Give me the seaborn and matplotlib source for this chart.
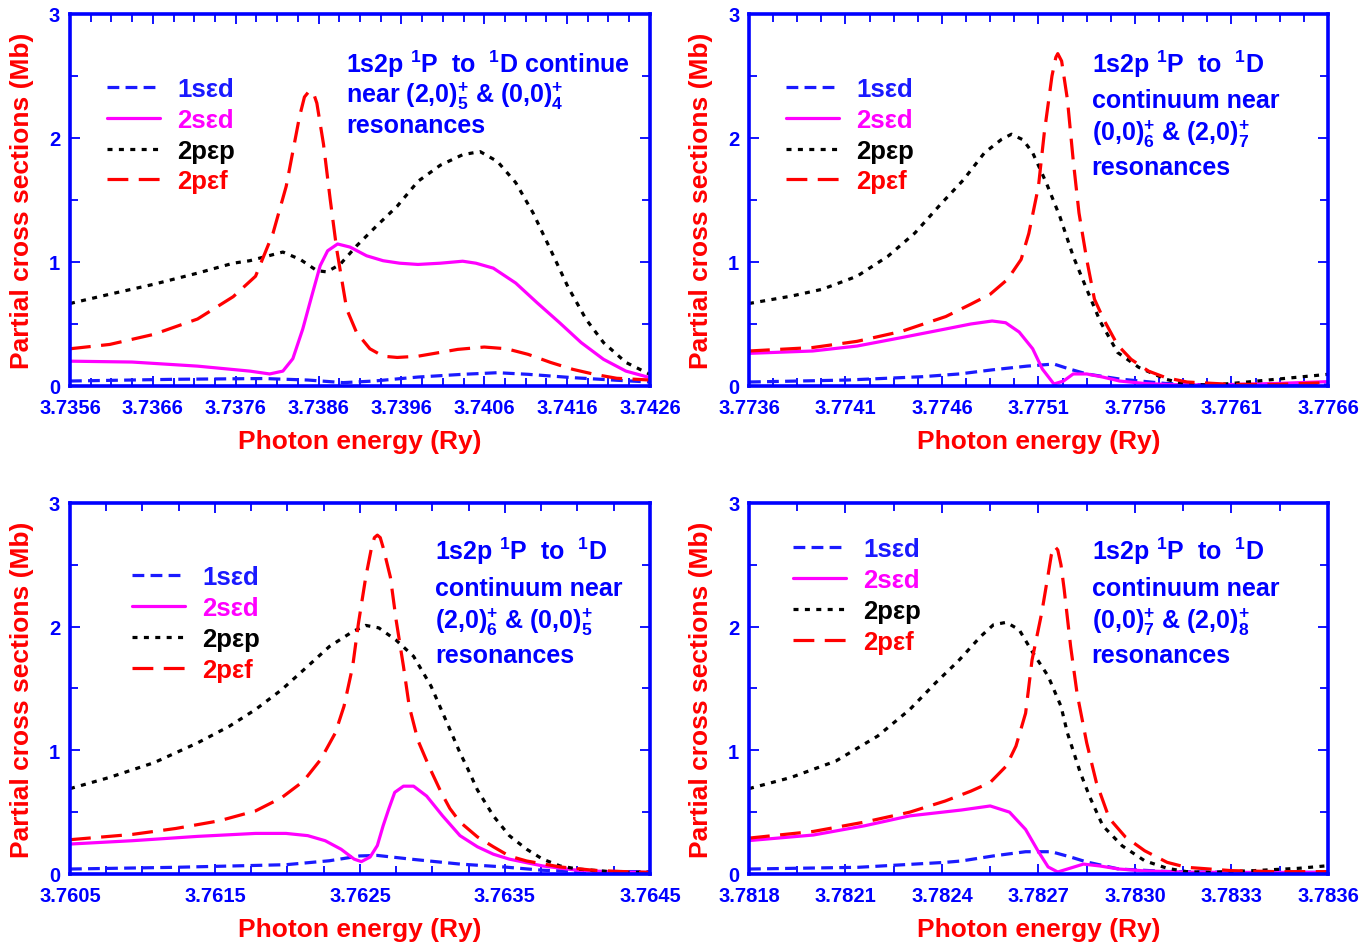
import numpy as np
import matplotlib
matplotlib.use("Agg")
import matplotlib.pyplot as plt
import seaborn as sns
from matplotlib.ticker import AutoMinorLocator, FixedLocator

sns.set_style("ticks")
plt.rcParams["font.family"] = ["Liberation Sans", "DejaVu Sans"]
plt.rcParams["font.weight"] = "bold"
plt.rcParams["mathtext.fontset"] = "custom"
plt.rcParams["mathtext.rm"] = "Liberation Sans:bold"
plt.rcParams["mathtext.bf"] = "Liberation Sans:bold"
plt.rcParams["mathtext.it"] = "Liberation Sans:bold"
plt.rcParams["mathtext.default"] = "bf"
plt.rcParams["lines.scale_dashes"] = False

# ---------------- Data ----------------
series_labels = ["1s\u03b5d", "2s\u03b5d", "2p\u03b5p", "2p\u03b5f"]

# Panel 1 : 3.7356 - 3.7426
p1_xticks = [3.7356, 3.7366, 3.7376, 3.7386, 3.7396, 3.7406, 3.7416, 3.7426]
p1_sed1_x = [3.73560, 3.73688, 3.73794, 3.73847, 3.73890, 3.73927, 3.73980, 3.74034, 3.74076, 3.74113, 3.74167, 3.74220, 3.74260]
p1_sed1_y = [0.040, 0.054, 0.060, 0.048, 0.027, 0.040, 0.072, 0.094, 0.107, 0.094, 0.067, 0.046, 0.032]
p1_sed2_x = [3.73560, 3.73635, 3.73714, 3.73777, 3.73801, 3.73817, 3.73829, 3.73841, 3.73852, 3.73862, 3.73871, 3.73883, 3.73898, 3.73918, 3.73938, 3.73958, 3.73980, 3.74007, 3.74034, 3.74050, 3.74071, 3.74098, 3.74124, 3.74151, 3.74177, 3.74204, 3.74231, 3.74260]
p1_sed2_y = [0.200, 0.193, 0.160, 0.120, 0.097, 0.120, 0.220, 0.460, 0.730, 0.970, 1.090, 1.145, 1.120, 1.050, 1.010, 0.990, 0.980, 0.990, 1.006, 0.990, 0.950, 0.830, 0.670, 0.510, 0.350, 0.215, 0.120, 0.067]
p1_pep_x = [3.73560, 3.73608, 3.73661, 3.73714, 3.73757, 3.73777, 3.73817, 3.73838, 3.73858, 3.73870, 3.73886, 3.73906, 3.73930, 3.73955, 3.73980, 3.74007, 3.74034, 3.74055, 3.74076, 3.74098, 3.74119, 3.74140, 3.74161, 3.74183, 3.74204, 3.74231, 3.74260]
p1_pep_y = [0.665, 0.740, 0.820, 0.910, 0.990, 1.010, 1.080, 1.020, 0.930, 0.920, 0.980, 1.130, 1.290, 1.450, 1.650, 1.780, 1.865, 1.890, 1.810, 1.640, 1.395, 1.100, 0.800, 0.537, 0.350, 0.190, 0.094]
p1_pef_x = [3.73560, 3.73608, 3.73661, 3.73714, 3.73757, 3.73784, 3.73805, 3.73821, 3.73837, 3.73843, 3.73849, 3.73854, 3.73858, 3.73866, 3.73874, 3.73882, 3.73894, 3.73906, 3.73922, 3.73938, 3.73955, 3.73980, 3.74028, 3.74060, 3.74087, 3.74113, 3.74140, 3.74167, 3.74193, 3.74220, 3.74260]
p1_pef_y = [0.300, 0.335, 0.416, 0.540, 0.720, 0.885, 1.230, 1.610, 2.170, 2.330, 2.380, 2.360, 2.280, 1.950, 1.510, 1.100, 0.620, 0.430, 0.300, 0.240, 0.230, 0.240, 0.295, 0.314, 0.300, 0.255, 0.190, 0.134, 0.094, 0.062, 0.048]

# Panel 2 : 3.7736 - 3.7766
p2_xticks = [3.7736, 3.7741, 3.7746, 3.7751, 3.7756, 3.7761, 3.7766]
p2_sed1_x = [3.77360, 3.77411, 3.77450, 3.77469, 3.77486, 3.77504, 3.77518, 3.77526, 3.77535, 3.77552, 3.77576, 3.77599, 3.77660]
p2_sed1_y = [0.032, 0.048, 0.075, 0.097, 0.130, 0.160, 0.177, 0.137, 0.097, 0.056, 0.020, 0.008, 0.008]
p2_sed2_x = [3.77360, 3.77393, 3.77416, 3.77439, 3.77462, 3.77475, 3.77486, 3.77493, 3.77500, 3.77507, 3.77512, 3.77518, 3.77523, 3.77528, 3.77535, 3.77543, 3.77552, 3.77565, 3.77580, 3.77599, 3.77633, 3.77660]
p2_sed2_y = [0.263, 0.282, 0.322, 0.390, 0.460, 0.500, 0.524, 0.510, 0.435, 0.300, 0.137, 0.016, 0.040, 0.097, 0.097, 0.073, 0.040, 0.020, 0.010, 0.008, 0.020, 0.035]
p2_pep_x = [3.77360, 3.77382, 3.77398, 3.77416, 3.77432, 3.77446, 3.77459, 3.77471, 3.77482, 3.77491, 3.77496, 3.77502, 3.77507, 3.77514, 3.77521, 3.77528, 3.77535, 3.77542, 3.77551, 3.77562, 3.77576, 3.77587, 3.77599, 3.77610, 3.77633, 3.77660]
p2_pep_y = [0.665, 0.725, 0.780, 0.885, 1.046, 1.234, 1.460, 1.660, 1.880, 1.990, 2.030, 1.985, 1.880, 1.640, 1.370, 1.046, 0.780, 0.520, 0.270, 0.150, 0.054, 0.013, 0.008, 0.020, 0.054, 0.094]
p2_pef_x = [3.77360, 3.77393, 3.77416, 3.77439, 3.77462, 3.77475, 3.77485, 3.77494, 3.77501, 3.77505, 3.77510, 3.77513, 3.77517, 3.77519, 3.77520, 3.77522, 3.77525, 3.77528, 3.77531, 3.77535, 3.77539, 3.77544, 3.77551, 3.77558, 3.77567, 3.77576, 3.77587, 3.77610, 3.77633, 3.77660]
p2_pef_y = [0.282, 0.310, 0.360, 0.440, 0.560, 0.660, 0.740, 0.860, 1.020, 1.230, 1.610, 2.040, 2.500, 2.650, 2.680, 2.620, 2.310, 1.820, 1.395, 1.020, 0.700, 0.530, 0.330, 0.215, 0.120, 0.067, 0.032, 0.013, 0.013, 0.027]

# Panel 3 : 3.7605 - 3.7645
p3_xticks = [3.7605, 3.7615, 3.7625, 3.7635, 3.7645]
p3_sed1_x = [3.76050, 3.76123, 3.76199, 3.76229, 3.76250, 3.76262, 3.76285, 3.76319, 3.76349, 3.76376, 3.76400, 3.76450]
p3_sed1_y = [0.040, 0.054, 0.075, 0.107, 0.146, 0.150, 0.120, 0.080, 0.057, 0.030, 0.020, 0.019]
p3_sed2_x = [3.76050, 3.76093, 3.76138, 3.76178, 3.76199, 3.76214, 3.76226, 3.76237, 3.76246, 3.76251, 3.76257, 3.76262, 3.76266, 3.76270, 3.76274, 3.76280, 3.76287, 3.76296, 3.76307, 3.76319, 3.76331, 3.76342, 3.76353, 3.76376, 3.76400, 3.76427, 3.76450]
p3_sed2_y = [0.242, 0.269, 0.304, 0.328, 0.328, 0.310, 0.269, 0.200, 0.120, 0.100, 0.137, 0.230, 0.390, 0.530, 0.660, 0.710, 0.710, 0.630, 0.470, 0.310, 0.220, 0.160, 0.120, 0.065, 0.030, 0.015, 0.013]
p3_pep_x = [3.76050, 3.76077, 3.76108, 3.76138, 3.76160, 3.76178, 3.76196, 3.76214, 3.76229, 3.76245, 3.76254, 3.76263, 3.76275, 3.76287, 3.76299, 3.76312, 3.76319, 3.76324, 3.76331, 3.76342, 3.76353, 3.76365, 3.76376, 3.76388, 3.76400, 3.76427, 3.76450]
p3_pep_y = [0.690, 0.780, 0.900, 1.060, 1.195, 1.330, 1.490, 1.680, 1.840, 1.960, 2.010, 1.990, 1.890, 1.760, 1.520, 1.170, 0.980, 0.860, 0.680, 0.470, 0.310, 0.200, 0.120, 0.065, 0.040, 0.015, 0.013]
p3_pef_x = [3.76050, 3.76093, 3.76123, 3.76153, 3.76178, 3.76196, 3.76211, 3.76223, 3.76233, 3.76239, 3.76245, 3.76249, 3.76254, 3.76258, 3.76260, 3.76262, 3.76264, 3.76266, 3.76271, 3.76275, 3.76280, 3.76284, 3.76290, 3.76298, 3.76306, 3.76312, 3.76319, 3.76331, 3.76342, 3.76353, 3.76365, 3.76388, 3.76411, 3.76430, 3.76450]
p3_pef_y = [0.277, 0.320, 0.368, 0.430, 0.510, 0.617, 0.750, 0.927, 1.140, 1.356, 1.680, 2.030, 2.400, 2.640, 2.720, 2.740, 2.720, 2.640, 2.400, 2.050, 1.680, 1.356, 1.080, 0.860, 0.660, 0.530, 0.420, 0.300, 0.220, 0.145, 0.105, 0.057, 0.030, 0.020, 0.013]

# Panel 4 : 3.7818 - 3.7836
p4_xticks = [3.7818, 3.7821, 3.7824, 3.7827, 3.7830, 3.7833, 3.7836]
p4_sed1_x = [3.78180, 3.78214, 3.78241, 3.78246, 3.78256, 3.78266, 3.78274, 3.78280, 3.78285, 3.78295, 3.78310, 3.78330, 3.78360]
p4_sed1_y = [0.040, 0.054, 0.094, 0.105, 0.146, 0.180, 0.180, 0.137, 0.097, 0.040, 0.020, 0.013, 0.013]
p4_sed2_x = [3.78180, 3.78200, 3.78216, 3.78230, 3.78246, 3.78255, 3.78261, 3.78266, 3.78270, 3.78273, 3.78276, 3.78279, 3.78284, 3.78289, 3.78295, 3.78303, 3.78316, 3.78330, 3.78360]
p4_sed2_y = [0.270, 0.315, 0.390, 0.470, 0.517, 0.550, 0.500, 0.360, 0.180, 0.057, 0.016, 0.040, 0.080, 0.065, 0.040, 0.025, 0.015, 0.013, 0.013]
p4_pep_x = [3.78180, 3.78193, 3.78207, 3.78220, 3.78230, 3.78238, 3.78245, 3.78252, 3.78256, 3.78260, 3.78264, 3.78268, 3.78273, 3.78277, 3.78279, 3.78283, 3.78286, 3.78290, 3.78296, 3.78303, 3.78310, 3.78316, 3.78323, 3.78337, 3.78351, 3.78360]
p4_pep_y = [0.690, 0.780, 0.913, 1.115, 1.330, 1.545, 1.720, 1.920, 2.015, 2.035, 1.975, 1.800, 1.600, 1.356, 1.140, 0.820, 0.620, 0.390, 0.228, 0.107, 0.046, 0.019, 0.013, 0.027, 0.046, 0.067]
p4_pef_x = [3.78180, 3.78200, 3.78216, 3.78230, 3.78241, 3.78249, 3.78255, 3.78260, 3.78263, 3.78266, 3.78268, 3.78271, 3.78273, 3.78274, 3.78275, 3.78276, 3.78277, 3.78278, 3.78280, 3.78282, 3.78285, 3.78288, 3.78292, 3.78297, 3.78303, 3.78310, 3.78316, 3.78330, 3.78344, 3.78360]
p4_pef_y = [0.290, 0.344, 0.420, 0.500, 0.590, 0.670, 0.740, 0.873, 1.034, 1.300, 1.730, 2.110, 2.420, 2.580, 2.650, 2.620, 2.500, 2.300, 1.840, 1.460, 1.060, 0.740, 0.450, 0.300, 0.188, 0.094, 0.054, 0.027, 0.019, 0.019]

y_ticks = [0, 1, 2, 3]

p1_text = [r"1s2p ${}^{1}$P  to  ${}^{1}$D continue",
           r"near $(2{,}0)^{+}_{5}$ & $(0{,}0)^{+}_{4}$",
           "resonances"]
p2_text = [r"1s2p ${}^{1}$P  to  ${}^{1}$D", "continuum near",
           r"$(0{,}0)^{+}_{6}$ & $(2{,}0)^{+}_{7}$", "resonances"]
p3_text = [r"1s2p ${}^{1}$P  to  ${}^{1}$D", "continuum near",
           r"$(2{,}0)^{+}_{6}$ & $(0{,}0)^{+}_{5}$", "resonances"]
p4_text = [r"1s2p ${}^{1}$P  to  ${}^{1}$D", "continuum near",
           r"$(0{,}0)^{+}_{7}$ & $(2{,}0)^{+}_{8}$", "resonances"]

# ---------------- Styles ----------------
BLUE = "#0000ff"
styles = [
    dict(color="#1a1aff", dashes=(8.5, 4.5)),
    dict(color="#ff00ff", dashes=None),
    dict(color="#000000", dashes=(3.6, 4.6)),
    dict(color="#ff0000", dashes=(15, 7.5)),
]

panels = [
    dict(rect=[0.0510, 0.5905, 0.4227, 0.3937], xticks=p1_xticks, nminor=4,
         series=[(p1_sed1_x, p1_sed1_y), (p1_sed2_x, p1_sed2_y), (p1_pep_x, p1_pep_y), (p1_pef_x, p1_pef_y)],
         text=p1_text, tx=0.476, ty=[0.844, 0.763, 0.683], leg=(0.042, 0.866)),
    dict(rect=[0.5459, 0.5905, 0.4220, 0.3937], xticks=p2_xticks, nminor=4,
         series=[(p2_sed1_x, p2_sed1_y), (p2_sed2_x, p2_sed2_y), (p2_pep_x, p2_pep_y), (p2_pef_x, p2_pef_y)],
         text=p2_text, tx=0.592, ty=[0.844, 0.750, 0.661, 0.570], leg=(0.042, 0.866)),
    dict(rect=[0.0510, 0.0741, 0.4227, 0.3926], xticks=p3_xticks, nminor=4,
         series=[(p3_sed1_x, p3_sed1_y), (p3_sed2_x, p3_sed2_y), (p3_pep_x, p3_pep_y), (p3_pef_x, p3_pef_y)],
         text=p3_text, tx=0.629, ty=[0.849, 0.752, 0.663, 0.571], leg=(0.085, 0.868)),
    dict(rect=[0.5459, 0.0741, 0.4220, 0.3926], xticks=p4_xticks, nminor=2,
         series=[(p4_sed1_x, p4_sed1_y), (p4_sed2_x, p4_sed2_y), (p4_pep_x, p4_pep_y), (p4_pef_x, p4_pef_y)],
         text=p4_text, tx=0.592, ty=[0.849, 0.752, 0.663, 0.571], leg=(0.054, 0.943)),
]

fig = plt.figure(figsize=(13.72, 9.45), dpi=100)
fig.patch.set_facecolor("white")

for pn in panels:
    ax = fig.add_axes(pn["rect"])
    ax.set_facecolor("white")
    handles = []
    for (xs, ys), st, lab in zip(pn["series"], styles, series_labels):
        sns.lineplot(x=xs, y=ys, ax=ax, color=st["color"], linewidth=2.3,
                     estimator=None, sort=False, legend=False)
        ln = ax.get_lines()[-1]
        if st["dashes"] is not None:
            ln.set_dashes(st["dashes"])
        ln.set_label(lab)
        handles.append(ln)

    ax.set_xlim(pn["xticks"][0], pn["xticks"][-1])
    ax.set_ylim(0, 3)
    ax.xaxis.set_major_locator(FixedLocator(pn["xticks"]))
    ax.set_xticklabels(["%.4f" % v for v in pn["xticks"]], fontweight="bold",
                       fontsize=14.5, color=BLUE)
    ax.xaxis.set_minor_locator(AutoMinorLocator(pn["nminor"]))
    ax.yaxis.set_major_locator(FixedLocator(y_ticks))
    ax.set_yticklabels([str(v) for v in y_ticks], fontweight="bold",
                       fontsize=14.5, color=BLUE)
    ax.yaxis.set_minor_locator(AutoMinorLocator(2))

    for sp in ax.spines.values():
        sp.set_visible(True)
        sp.set_color(BLUE)
        sp.set_linewidth(2.6)
    ax.tick_params(which="both", direction="in", top=True, right=True,
                   color=BLUE, width=1.3)
    ax.tick_params(which="major", length=7)
    ax.tick_params(which="minor", length=6)
    ax.tick_params(axis="x", which="major", pad=9)
    ax.tick_params(axis="y", which="major", pad=7)

    ax.set_xlabel("Photon energy (Ry)", color="#ff0000", fontsize=19, fontweight="bold")
    ax.set_ylabel("Partial cross sections (Mb)", color="#ff0000", fontsize=19, fontweight="bold")
    ax.xaxis.set_label_coords(0.5, -0.115)
    ax.yaxis.set_label_coords(-0.062, 0.5)

    ax.legend(handles=handles, loc="upper left", bbox_to_anchor=pn["leg"],
              frameon=False, labelcolor="linecolor", borderpad=0,
              handlelength=2.05, handletextpad=0.68, labelspacing=0.27,
              prop=dict(family="Liberation Sans", weight="bold", size=18.5))

    for line_txt, yy in zip(pn["text"], pn["ty"]):
        ax.text(pn["tx"], yy, line_txt, transform=ax.transAxes, color=BLUE,
                fontsize=18, fontweight="bold", ha="left", va="baseline")

fig.savefig("out.png", dpi=100, facecolor="white")
